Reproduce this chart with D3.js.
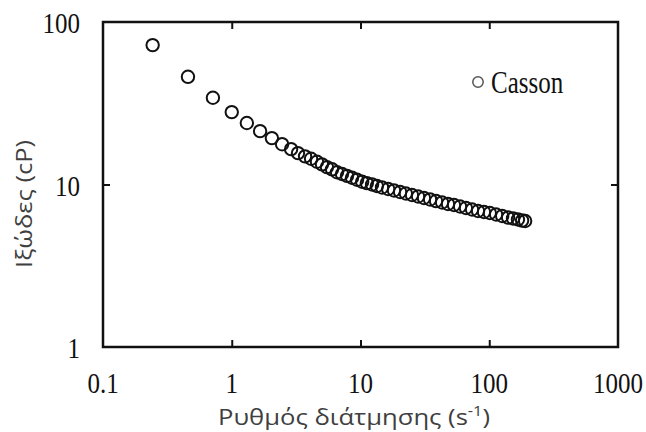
<!DOCTYPE html>
<html>
<head>
<meta charset="utf-8">
<script src="https://cdn.jsdelivr.net/npm/d3@7"></script>
<style>
  body { margin: 0; background: #fff; }
  svg { display: block; }
  .tick-label { font-family: "Liberation Serif", "Times New Roman", serif; font-size: 25px; fill: #111; }
  .axis-title { font-family: "Open Sans", "Noto Sans", sans-serif; font-size: 22px; fill: #404040; }
</style>
</head>
<body>
<svg width="646" height="432"></svg>
<script>
// shear rate (1/s) and viscosity (cP)
const shearRate = [
  0.243, 0.457, 0.714, 1.0, 1.31, 1.66, 2.05, 2.46, 2.89, 3.27,
  3.71, 4.13, 4.59, 5.02, 5.49, 6.01, 6.57, 7.18, 7.86, 8.59,
  9.40, 10.3, 11.2, 12.3, 13.4, 14.7, 16.4, 18.2, 20.3, 22.5,
  25.1, 28.0, 31.1, 34.7, 38.6, 43.0, 47.8, 53.2, 59.3, 65.9,
  73.5, 81.8, 91.0, 101, 113, 126, 140, 153, 167, 180, 190
]
const viscosity = [
  72.1, 46.0, 34.2, 27.9, 23.9, 21.3, 19.3, 17.7, 16.5, 15.6,
  14.9, 14.4, 13.8, 13.3, 12.8, 12.4, 11.9, 11.6, 11.3, 11.0,
  10.7, 10.4, 10.2, 10.0, 9.79, 9.59, 9.38, 9.19, 8.99, 8.80,
  8.62, 8.44, 8.26, 8.09, 7.91, 7.75, 7.59, 7.48, 7.32, 7.17,
  7.02, 6.87, 6.77, 6.68, 6.54, 6.40, 6.26, 6.18, 6.09, 6.00, 5.96
]
const xTicks = [0.1, 1, 10, 100, 1000]
const yTicks = [1, 10, 100]
const seriesName = "Casson"
const xTitle = "Ρυθμός διάτμησης (s"
const xTitleSup = "-1"
const yTitle = "Ιξώδες (cP)"

const PLOT = { left: 103, right: 618, top: 22, bottom: 347 }
const STRETCH = 1.2   // the serif labels in the source are drawn taller than normal

const svg = d3.select("svg")

const x = d3.scaleLog().domain([0.1, 1000]).range([PLOT.left, PLOT.right])
const y = d3.scaleLog().domain([1, 100]).range([PLOT.bottom, PLOT.top])

const fmt = d => String(d)

// inward ticks on all four sides
svg.append("g")
  .attr("transform", `translate(0,${PLOT.bottom})`)
  .call(d3.axisBottom(x).tickValues(xTicks.slice(1, -1)).tickSize(-7).tickFormat(""))
svg.append("g")
  .attr("transform", `translate(0,${PLOT.top})`)
  .call(d3.axisTop(x).tickValues(xTicks.slice(1, -1)).tickSize(-7).tickFormat(""))
svg.append("g")
  .attr("transform", `translate(${PLOT.left},0)`)
  .call(d3.axisLeft(y).tickValues(yTicks.slice(1, -1)).tickSize(-7).tickFormat(""))
svg.append("g")
  .attr("transform", `translate(${PLOT.right},0)`)
  .call(d3.axisRight(y).tickValues(yTicks.slice(1, -1)).tickSize(-7).tickFormat(""))

svg.selectAll(".domain").remove()
svg.selectAll(".tick line").attr("stroke", "#111").attr("stroke-width", 2)

svg.append("rect")
  .attr("x", PLOT.left).attr("y", PLOT.top)
  .attr("width", PLOT.right - PLOT.left).attr("height", PLOT.bottom - PLOT.top)
  .attr("fill", "none").attr("stroke", "#111").attr("stroke-width", 2.5)

// tick labels
svg.append("g").selectAll("text")
  .data(xTicks)
  .join("text")
  .attr("class", "tick-label")
  .attr("transform", d => `translate(${x(d)},393) scale(1,${STRETCH})`)
  .attr("text-anchor", "middle")
  .text(fmt)

svg.append("g").selectAll("text")
  .data(yTicks)
  .join("text")
  .attr("class", "tick-label")
  .attr("transform", d => `translate(80,${y(d) + 11}) scale(1,${STRETCH})`)
  .attr("text-anchor", "end")
  .text(fmt)

// points
const pts = d3.zip(shearRate, viscosity)
svg.append("g").selectAll("circle")
  .data(pts)
  .join("circle")
  .attr("cx", d => x(d[0]))
  .attr("cy", d => y(d[1]))
  .attr("r", 6.2)
  .attr("fill", "none")
  .attr("stroke", "#111")
  .attr("stroke-width", 2)

// legend
svg.append("circle")
  .attr("cx", 478).attr("cy", 82).attr("r", 5.2)
  .attr("fill", "none").attr("stroke", "#555").attr("stroke-width", 1.5)
svg.append("text")
  .attr("class", "tick-label")
  .attr("transform", `translate(491,93) scale(1,1.25)`)
  .text(seriesName)

// axis titles
const xt = svg.append("text")
  .attr("class", "axis-title")
  .attr("x", 354)
  .attr("y", 425)
  .attr("text-anchor", "middle")
  .attr("textLength", 272)
  .attr("lengthAdjust", "spacingAndGlyphs")
xt.append("tspan").text(xTitle)
xt.append("tspan").attr("dy", -9).attr("font-size", 14).text(xTitleSup)
xt.append("tspan").attr("dy", 9).text(")")

svg.append("text")
  .attr("class", "axis-title")
  .attr("transform", "translate(32,204) rotate(-90)")
  .attr("text-anchor", "middle")
  .attr("textLength", 128)
  .attr("lengthAdjust", "spacingAndGlyphs")
  .text(yTitle)
</script>
</body>
</html>
